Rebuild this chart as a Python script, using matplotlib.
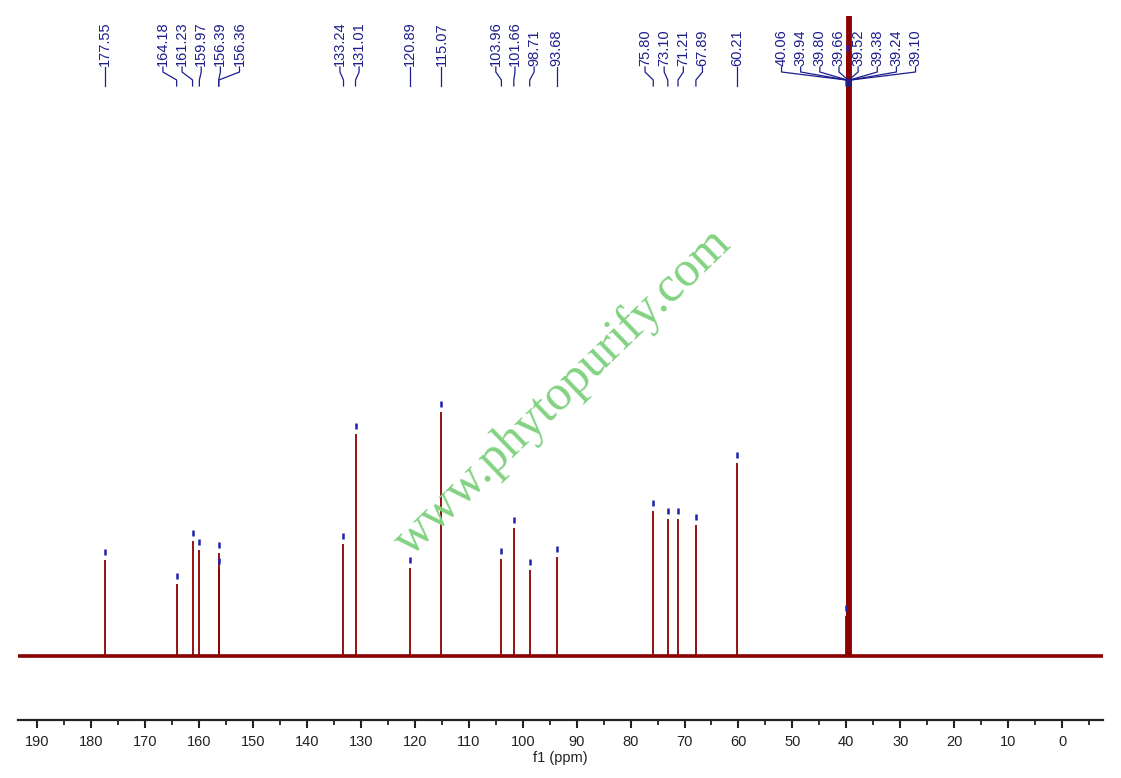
import numpy as np
import matplotlib
matplotlib.use('Agg')
import matplotlib.pyplot as plt

plt.rcParams['font.family'] = ['Liberation Sans', 'DejaVu Sans']

# peak positions (ppm) and heights (arbitrary units)
shifts = [177.55, 164.18, 161.23, 159.97, 156.39, 156.36,
          133.24, 131.01, 120.89, 115.07,
          103.96, 101.66, 98.71, 93.68,
          75.80, 73.10, 71.21, 67.89, 60.21,
          40.06, 39.94, 39.80, 39.66, 39.52, 39.38, 39.24, 39.10]
heights = [96, 72, 115, 106, 103, 87,
           112, 222, 88, 244,
           97, 128, 86, 99,
           145, 137, 137, 131, 193,
           40, 600, 1500, 2500, 3000, 2500, 1500, 700]

xticks = list(range(0, 200, 10))

peak_color = '#8b0000'
label_color = '#1e1e8c'


def spread_labels(ppms, gap):
    """Spread label positions so neighbours are at least `gap` ppm apart."""
    order = sorted(range(len(ppms)), key=lambda i: -ppms[i])
    clusters = []
    for i in order:
        clusters.append([i])
        while len(clusters) > 1:
            a, b = clusters[-2], clusters[-1]
            ca = np.mean([-ppms[k] for k in a])
            cb = np.mean([-ppms[k] for k in b])
            right_a = ca + (len(a) - 1) / 2 * gap
            left_b = cb - (len(b) - 1) / 2 * gap
            if left_b - right_a < gap:
                clusters[-2:] = [a + b]
            else:
                break
    out = [0.0] * len(ppms)
    for c in clusters:
        cen = np.mean([-ppms[k] for k in c])
        n = len(c)
        for j, k in enumerate(c):
            out[k] = -(cen + (j - (n - 1) / 2) * gap)
    return out


fig = plt.figure(figsize=(11.21, 7.78), dpi=100)
ax = fig.add_axes([18 / 1121, 58 / 778, 1085 / 1121, 704 / 778])

xmin, xmax = 193.6, -7.6
ax.set_xlim(xmin, xmax)
ax.set_ylim(-64, 640)

# baseline and peaks
ax.plot([xmin, xmax], [0, 0], color=peak_color, lw=2.6, zorder=3,
        solid_capstyle='butt')
ax.vlines(shifts, 0, heights, color=peak_color, lw=1.3, zorder=2)
ax.plot(shifts, np.array(heights) + 8, ls='none', marker='|', ms=5,
        mew=1.8, color='#2020b0', zorder=2.5)

# peak labels with connectors
label_pos = spread_labels(shifts, 3.55)
y_text = 589
for s, lx in zip(shifts, label_pos):
    ax.plot([lx, lx, s, s], [y_text, y_text - 5, y_text - 13, y_text - 19],
            color=label_color, lw=0.9, zorder=4, clip_on=False)
    ax.text(lx, y_text + 1, f'{s:.2f}', rotation=90, ha='center',
            va='bottom', fontsize=10.5, color=label_color, zorder=4)

# axis styling
for side in ['left', 'right', 'top']:
    ax.spines[side].set_visible(False)
ax.spines['bottom'].set_linewidth(1.6)
ax.spines['bottom'].set_color('#222222')
ax.set_yticks([])
ax.set_xticks(xticks)
ax.set_xticks(np.arange(-5, 195, 5), minor=True)
ax.tick_params(axis='x', which='major', length=6, width=1.5,
               labelsize=10.5, pad=5, colors='#222222')
ax.tick_params(axis='x', which='minor', length=3.5, width=1.3,
               colors='#222222')
ax.set_xlabel('f1 (ppm)', fontsize=10.5, labelpad=1, color='#222222')

# watermark
fig.text(563 / 1121, 1 - 392 / 778, 'www.phytopurify.com', rotation=44,
         ha='center', va='center', fontsize=36, family='Liberation Serif',
         color='#82d282', zorder=10)

fig.savefig('out.png', dpi=100)
